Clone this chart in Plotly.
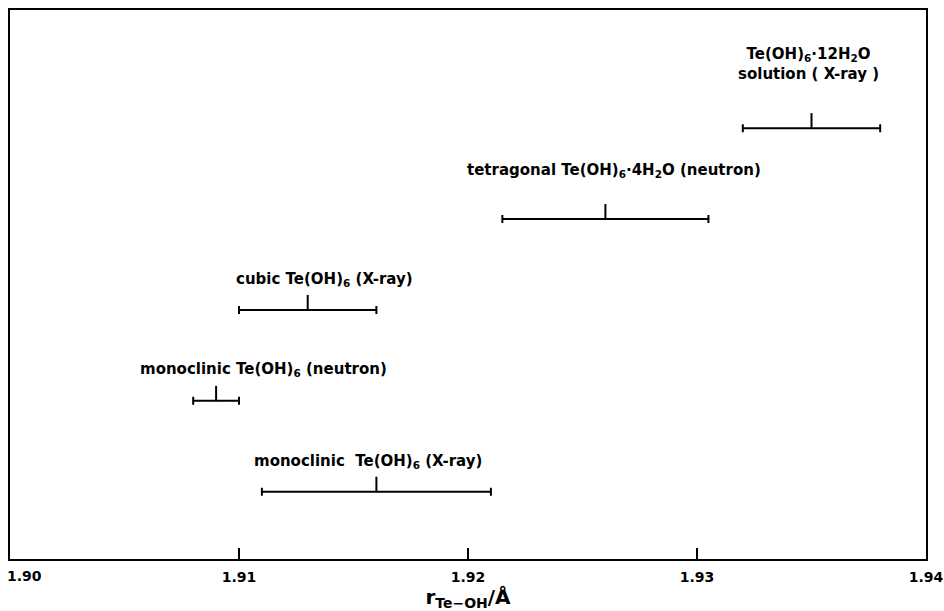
import plotly.graph_objects as go

# Data (Te–OH bond distances, Å)
labels = [
    "Te(OH)<sub>6</sub>·12H<sub>2</sub>O<br>solution ( X-ray )",
    "tetragonal Te(OH)<sub>6</sub>·4H<sub>2</sub>O (neutron)",
    "cubic Te(OH)<sub>6</sub> (X-ray)",
    "monoclinic Te(OH)<sub>6</sub> (neutron)",
    "monoclinic  Te(OH)<sub>6</sub> (X-ray)",
]
r_mean = [1.935, 1.926, 1.913, 1.909, 1.916]
r_low = [1.932, 1.9215, 1.910, 1.908, 1.911]
r_high = [1.938, 1.9305, 1.916, 1.910, 1.921]
rank = [5, 4, 3, 2, 1]
tick_vals = [1.90, 1.91, 1.92, 1.93, 1.94]
tick_text = ["1.90", "1.91", "1.92", "1.93", "1.94"]

# layout offsets for labels (pixels)
label_dx = [-3, 9, 17, 47, -8]
label_dy = [64, 49, 30, 31, 30]

FONT = "DejaVu Sans"
TICKFONT = dict(family=FONT, size=14, color="black", weight="bold")

fig = go.Figure()
fig.add_trace(go.Scatter(
    x=r_mean, y=rank, mode="markers",
    marker=dict(size=1, color="black"),
    error_x=dict(type="data", symmetric=False,
                 array=[h - m for h, m in zip(r_high, r_mean)],
                 arrayminus=[m - l for m, l in zip(r_mean, r_low)],
                 color="black", thickness=2, width=4),
    error_y=dict(type="data", symmetric=False,
                 array=[0.165] * len(rank), arrayminus=[0] * len(rank),
                 color="black", thickness=2, width=0),
    hoverinfo="skip", showlegend=False,
))

for lab, x, y, dx, dy in zip(labels, r_mean, rank, label_dx, label_dy):
    fig.add_annotation(x=x, y=y, text=lab, showarrow=False,
                       xshift=dx, yshift=dy, xanchor="center", yanchor="middle",
                       align="center",
                       font=dict(family=FONT, size=15, color="black", weight="bold"))

# first tick label sits at the left edge: draw it left-aligned so it stays inside
fig.add_annotation(x=tick_vals[0], y=0, xref="x", yref="paper", text=tick_text[0],
                   showarrow=False, xanchor="left", yanchor="middle",
                   xshift=-5, yshift=-17, font=TICKFONT)

fig.update_layout(
    width=944, height=611,
    margin=dict(l=10, r=18, t=10, b=52, autoexpand=False),
    paper_bgcolor="white", plot_bgcolor="white",
    xaxis=dict(range=[1.90, 1.94], tickvals=tick_vals,
               ticktext=[""] + tick_text[1:],
               ticks="inside", ticklen=11, tickwidth=2, tickcolor="black",
               ticklabeloverflow="allow", automargin=False, ticklabelstandoff=4,
               showline=True, linewidth=2, linecolor="black", mirror=True,
               showgrid=False, zeroline=False,
               tickfont=TICKFONT,
               title=dict(text="r<sub>Te−OH</sub>/Å", standoff=8,
                          font=dict(family=FONT, size=20, color="black", weight="bold"))),
    yaxis=dict(range=[0.26, 6.3], showticklabels=False, ticks="", automargin=False,
               showline=True, linewidth=2, linecolor="black", mirror=True,
               showgrid=False, zeroline=False),
)

fig.write_html("out.html")
